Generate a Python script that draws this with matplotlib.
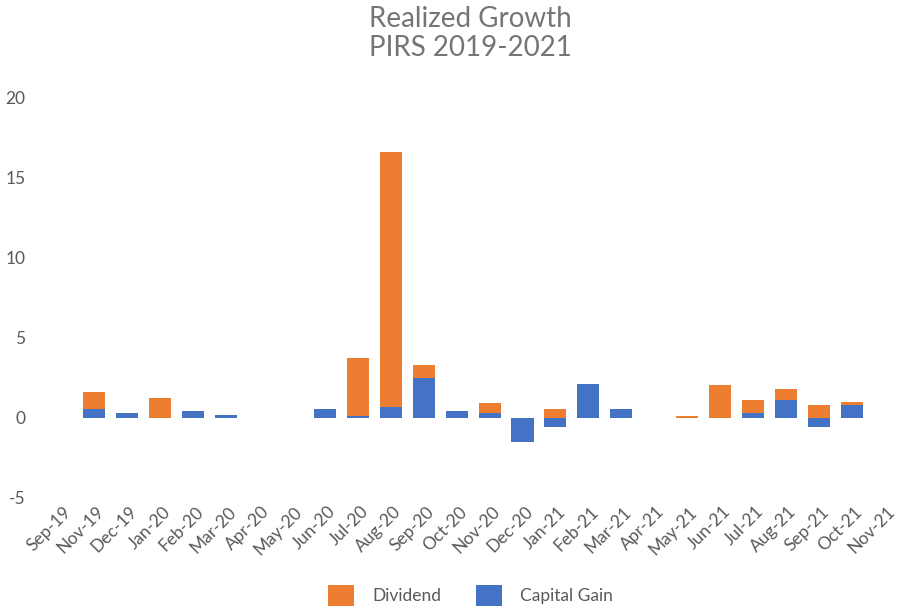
import numpy as np
import matplotlib.pyplot as plt
import matplotlib.transforms as mtransforms

months = ['Sep-19', 'Nov-19', 'Dec-19', 'Jan-20', 'Feb-20', 'Mar-20', 'Apr-20',
          'May-20', 'Jun-20', 'Jul-20', 'Aug-20', 'Sep-20', 'Oct-20', 'Nov-20',
          'Dec-20', 'Jan-21', 'Feb-21', 'Mar-21', 'Apr-21', 'May-21', 'Jun-21',
          'Jul-21', 'Aug-21', 'Sep-21', 'Oct-21', 'Nov-21']
capital_gain = [0, 0.56, 0.3, 0, 0.45, 0.2, 0, 0, 0.56, 0.15, 0.7, 2.5, 0.45, 0.3,
                -1.5, -0.55, 2.1, 0.56, 0, 0, 0, 0.3, 1.1, -0.55, 0.8, 0]
dividend = [0, 1.05, 0, 1.25, 0, 0, 0, 0, 0, 3.6, 15.9, 0.8, 0, 0.65,
            0, 0.56, 0, 0, 0, 0.15, 2.05, 0.8, 0.7, 0.8, 0.2, 0]

orange = '#ED7D31'
blue = '#4472C4'
grey = '#595959'
plt.rcParams['font.family'] = ['Lato', 'DejaVu Sans']
plt.rcParams['axes.unicode_minus'] = False

x = np.arange(len(months))
cg = np.array(capital_gain)
div_bottom = np.where(cg > 0, cg, 0)

fig = plt.figure(figsize=(8.98, 6.08), dpi=100)
ax = fig.add_axes([0.05, 0.181, 0.95, 0.658])

ax.bar(x, dividend, 0.67, bottom=div_bottom, color=orange, label='Dividend')
ax.bar(x, capital_gain, 0.67, color=blue, label='Capital Gain')

ax.set_xlim(-0.5, 25.4)
ax.set_ylim(-5, 20)
ax.set_yticks([-5, 0, 5, 10, 15, 20])
ax.set_xticks(x)
ax.set_xticklabels(months, rotation=45, ha='right', rotation_mode='anchor')
for s in ax.spines.values():
    s.set_visible(False)
ax.tick_params(axis='both', length=0, labelsize=12.5, labelcolor=grey)
ax.tick_params(axis='y', pad=14)
ax.tick_params(axis='x', pad=4)
shift = mtransforms.ScaledTranslation(2 / 100, 0, fig.dpi_scale_trans)
for lab in ax.get_xticklabels():
    lab.set_transform(lab.get_transform() + shift)

fig.text(0.524, 0.99, 'Realized Growth\nPIRS 2019-2021', ha='center', va='top',
         fontsize=20, color='#757575', linespacing=1.12)

h, l = ax.get_legend_handles_labels()
fig.legend(h, l, loc='lower center', bbox_to_anchor=(0.524, -0.022), ncol=2,
           frameon=False, fontsize=12.5, labelcolor=grey, handlelength=1.5,
           handleheight=1.5, columnspacing=2.0, handletextpad=1.05)

fig.savefig('out.png', dpi=100)
